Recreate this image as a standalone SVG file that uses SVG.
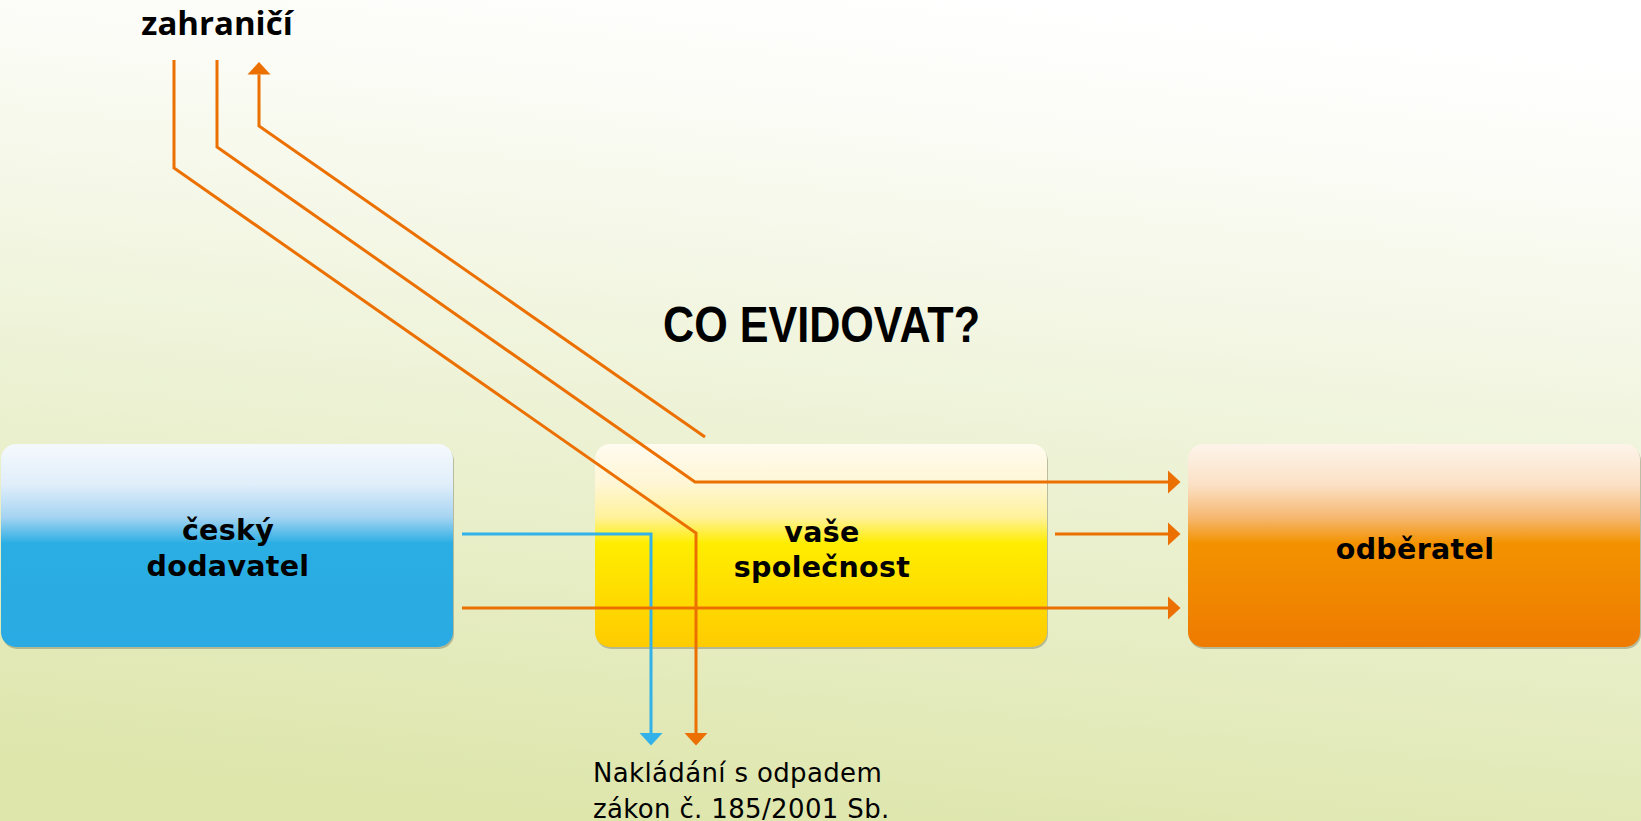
<svg xmlns="http://www.w3.org/2000/svg" width="1641" height="821" viewBox="0 0 1641 821">
  <defs>
    <linearGradient id="bg" x1="0.6" y1="0" x2="0.4" y2="1">
      <stop offset="0" stop-color="#ffffff"/>
      <stop offset="0.15" stop-color="#fbfcf6"/>
      <stop offset="0.5" stop-color="#eef3d8"/>
      <stop offset="1" stop-color="#dee6ac"/>
    </linearGradient>
    <linearGradient id="gBlue" x1="0" y1="0" x2="0" y2="1">
      <stop offset="0" stop-color="#f5f9fd"/>
      <stop offset="0.2" stop-color="#e0eefa"/>
      <stop offset="0.36" stop-color="#a6d4f2"/>
      <stop offset="0.49" stop-color="#2aaee3"/>
      <stop offset="1" stop-color="#2aaae2"/>
    </linearGradient>
    <linearGradient id="gYellow" x1="0" y1="0" x2="0" y2="1">
      <stop offset="0" stop-color="#fffbf0"/>
      <stop offset="0.2" stop-color="#fff6d4"/>
      <stop offset="0.36" stop-color="#fff29c"/>
      <stop offset="0.49" stop-color="#ffed00"/>
      <stop offset="1" stop-color="#ffcb00"/>
    </linearGradient>
    <linearGradient id="gOrange" x1="0" y1="0" x2="0" y2="1">
      <stop offset="0" stop-color="#fdf4ea"/>
      <stop offset="0.2" stop-color="#fbe1c6"/>
      <stop offset="0.36" stop-color="#f6b872"/>
      <stop offset="0.49" stop-color="#f39200"/>
      <stop offset="1" stop-color="#ee7b00"/>
    </linearGradient>
    <marker id="arrO" markerUnits="userSpaceOnUse" markerWidth="14" markerHeight="24" refX="0" refY="11.5" orient="auto" viewBox="0 0 14 23">
      <path d="M0,0 L12.5,11.5 L0,23 z" fill="#ec7000"/>
    </marker>
    <marker id="arrB" markerUnits="userSpaceOnUse" markerWidth="14" markerHeight="24" refX="0" refY="11.5" orient="auto" viewBox="0 0 14 23">
      <path d="M0,0 L12.5,11.5 L0,23 z" fill="#32b2e8"/>
    </marker>
    <style>
      .shadow { fill: #7d7d60; opacity: 0.45; }
      .lbl { font-family: "DejaVu Sans", "Liberation Sans", sans-serif; font-weight: bold; font-size: 28.5px; letter-spacing: 0.3px; fill: #000; text-anchor: middle; }
      .note { font-family: "DejaVu Sans", "Liberation Sans", sans-serif; font-size: 26px; letter-spacing: 0.35px; fill: #000; }
      .conn { fill: none; stroke-width: 3; stroke-linejoin: miter; }
      .o { stroke: #ec7000; marker-end: url(#arrO); }
      .b { stroke: #32b2e8; marker-end: url(#arrB); }
    </style>
  </defs>

  <rect x="0" y="0" width="1641" height="821" fill="url(#bg)"/>

  <g id="title">
    <text x="663" y="342" font-family="Liberation Sans, Arial, sans-serif" font-weight="bold" font-size="50" textLength="317" lengthAdjust="spacingAndGlyphs">CO EVIDOVAT?</text>
  </g>

  <g id="zahranici">
    <text x="217" y="35" font-family="Open Sans, Liberation Sans, sans-serif" font-weight="bold" font-size="33" text-anchor="middle">zahraničí</text>
  </g>

  <g id="cesky-dodavatel">
    <rect class="shadow" x="2" y="446" width="452" height="203" rx="15"/>
    <rect x="1" y="444" width="452" height="203" rx="15" fill="url(#gBlue)"/>
    <text class="lbl" x="228" y="540">český</text>
    <text class="lbl" x="228" y="576">dodavatel</text>
  </g>

  <g id="vase-spolecnost">
    <rect class="shadow" x="596" y="446" width="452" height="203" rx="15"/>
    <rect x="595" y="444" width="452" height="203" rx="15" fill="url(#gYellow)"/>
    <text class="lbl" x="822" y="542">vaše</text>
    <text class="lbl" x="822" y="577">společnost</text>
  </g>

  <g id="odberatel">
    <rect class="shadow" x="1189" y="446" width="452" height="203" rx="15"/>
    <rect x="1188" y="444" width="452" height="203" rx="15" fill="url(#gOrange)"/>
    <text class="lbl" x="1415" y="559">odběratel</text>
  </g>

  <g id="nakladani">
    <text class="note" x="593" y="782">Nakládání s odpadem</text>
    <text class="note" x="593" y="818">zákon č. 185/2001 Sb.</text>
  </g>

  <g id="connectors">
    <path class="conn o" d="M174,60 V168 L696,533 V733"/>
    <path class="conn o" d="M217,60 V147 L695,482 H1168"/>
    <path class="conn o" d="M705,437 L259,126 V74.5"/>
    <path class="conn b" d="M462,534 H651 V733"/>
    <path class="conn o" d="M1055,534 H1168"/>
    <path class="conn o" d="M462,608 H1168"/>
  </g>
</svg>
